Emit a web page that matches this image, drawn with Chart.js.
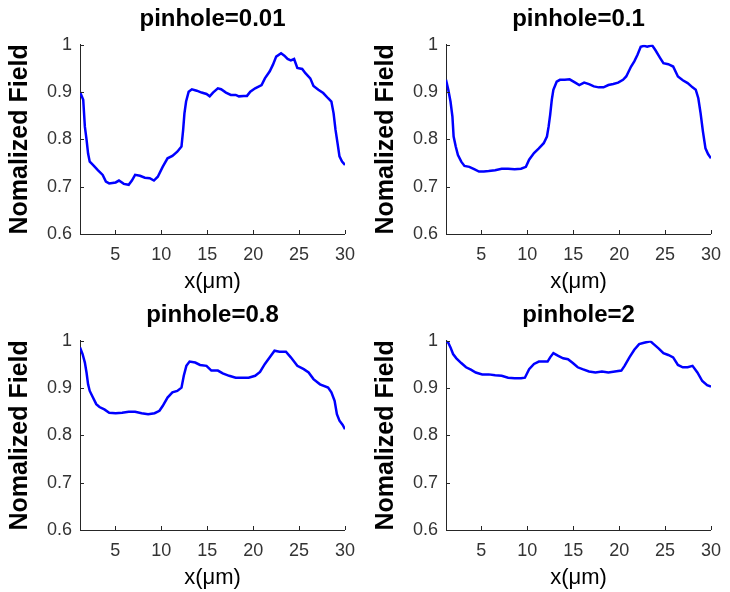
<!DOCTYPE html>
<html lang="en">
<head>
    <meta charset="utf-8">
    <title>Normalized field vs pinhole</title>
    <script src="https://cdn.jsdelivr.net/npm/chart.js"></script>
    <style>
        body { margin: 0; background: #fff; }
        .cell { position: absolute; width: 365px; height: 296px; }
    </style>
</head>
<body>
    <div class="cell" style="left:0;top:0"><canvas id="c1" width="365" height="296"></canvas></div>
    <div class="cell" style="left:366px;top:0"><canvas id="c2" width="365" height="296"></canvas></div>
    <div class="cell" style="left:0;top:296px"><canvas id="c3" width="365" height="296"></canvas></div>
    <div class="cell" style="left:366px;top:296px"><canvas id="c4" width="365" height="296"></canvas></div>
    <script>
        // tick labels
        const xTicks = [5, 10, 15, 20, 25, 30];
        const yTicks = [0.6, 0.7, 0.8, 0.9, 1];
        const titles = ['pinhole=0.01', 'pinhole=0.1', 'pinhole=0.8', 'pinhole=2'];

        // pinhole=0.01
        const x1 = [1.15, 1.50, 1.68, 1.86, 2.03, 2.21, 2.56, 3.09, 3.62, 3.97, 4.33, 5.03, 5.39, 5.92, 6.45, 6.80, 7.15, 7.68, 8.21, 8.74, 9.20, 9.62, 10.15, 10.68, 11.21, 11.74, 12.20, 12.38, 12.52, 12.70, 12.98, 13.33, 13.86, 14.39, 14.92, 15.27, 15.63, 16.16, 16.51, 17.04, 17.57, 18.10, 18.45, 18.98, 19.33, 19.69, 20.22, 20.92, 21.28, 21.81, 22.16, 22.51, 23.04, 23.40, 23.75, 24.10, 24.46, 24.81, 25.34, 25.69, 26.22, 26.57, 27.10, 27.63, 28.16, 28.52, 28.76, 28.97, 29.22, 29.40, 29.68, 30.00];
        const y1 = [0.900, 0.884, 0.827, 0.800, 0.770, 0.753, 0.746, 0.735, 0.725, 0.711, 0.707, 0.709, 0.713, 0.706, 0.704, 0.713, 0.725, 0.723, 0.719, 0.718, 0.713, 0.721, 0.742, 0.760, 0.765, 0.774, 0.785, 0.820, 0.855, 0.880, 0.901, 0.906, 0.903, 0.899, 0.896, 0.891, 0.899, 0.908, 0.906, 0.899, 0.894, 0.894, 0.891, 0.892, 0.892, 0.901, 0.908, 0.915, 0.929, 0.944, 0.958, 0.975, 0.982, 0.977, 0.970, 0.967, 0.970, 0.951, 0.949, 0.940, 0.929, 0.913, 0.905, 0.898, 0.887, 0.880, 0.855, 0.820, 0.788, 0.764, 0.753, 0.746];

        // pinhole=0.1
        const x2 = [1.15, 1.40, 1.64, 1.85, 1.98, 2.21, 2.45, 2.81, 3.16, 3.69, 4.21, 4.74, 5.27, 5.80, 6.50, 7.21, 7.91, 8.62, 9.32, 9.85, 10.20, 10.73, 11.26, 11.79, 12.14, 12.32, 12.49, 12.67, 12.84, 13.20, 13.55, 14.08, 14.61, 15.13, 15.66, 16.19, 16.72, 17.25, 17.78, 18.30, 18.83, 19.36, 19.89, 20.42, 20.77, 21.30, 21.65, 22.00, 22.35, 22.71, 23.06, 23.59, 23.94, 24.47, 24.82, 25.35, 25.88, 26.40, 26.93, 27.46, 27.99, 28.34, 28.62, 28.87, 29.12, 29.40, 29.68, 30.00];
        const y2 = [0.926, 0.905, 0.880, 0.848, 0.806, 0.785, 0.767, 0.753, 0.744, 0.742, 0.737, 0.732, 0.732, 0.733, 0.735, 0.738, 0.738, 0.737, 0.738, 0.742, 0.757, 0.771, 0.781, 0.792, 0.806, 0.827, 0.852, 0.884, 0.905, 0.922, 0.926, 0.926, 0.927, 0.921, 0.915, 0.920, 0.917, 0.912, 0.910, 0.910, 0.915, 0.917, 0.920, 0.926, 0.933, 0.954, 0.965, 0.979, 0.996, 0.998, 0.996, 0.999, 0.989, 0.972, 0.961, 0.959, 0.954, 0.933, 0.925, 0.919, 0.910, 0.905, 0.887, 0.855, 0.817, 0.781, 0.769, 0.760];

        // pinhole=0.8
        const x3 = [1.15, 1.43, 1.68, 1.86, 2.03, 2.21, 2.56, 2.92, 3.27, 3.80, 4.33, 5.03, 5.74, 6.45, 7.15, 7.86, 8.57, 9.27, 9.80, 10.15, 10.68, 11.21, 11.74, 12.20, 12.45, 12.73, 13.08, 13.69, 14.22, 14.92, 15.45, 16.16, 16.69, 17.39, 18.10, 18.81, 19.51, 20.22, 20.75, 21.28, 21.81, 22.33, 22.87, 23.57, 24.10, 24.81, 25.51, 26.04, 26.57, 27.28, 28.16, 28.52, 28.87, 29.12, 29.40, 29.75, 30.00];
        const y3 = [0.986, 0.972, 0.954, 0.933, 0.908, 0.894, 0.880, 0.866, 0.860, 0.855, 0.848, 0.847, 0.848, 0.850, 0.850, 0.847, 0.845, 0.847, 0.852, 0.862, 0.880, 0.891, 0.894, 0.901, 0.926, 0.947, 0.956, 0.954, 0.949, 0.947, 0.937, 0.937, 0.931, 0.926, 0.922, 0.922, 0.922, 0.926, 0.934, 0.951, 0.965, 0.979, 0.977, 0.977, 0.965, 0.947, 0.940, 0.933, 0.919, 0.908, 0.901, 0.891, 0.873, 0.845, 0.831, 0.822, 0.813];

        // pinhole=2
        const x4 = [1.15, 1.40, 1.64, 1.92, 2.28, 2.81, 3.33, 3.86, 4.39, 5.09, 5.80, 6.50, 7.21, 7.91, 8.62, 9.32, 9.74, 10.20, 10.73, 11.26, 11.79, 12.21, 12.49, 12.84, 13.37, 13.90, 14.43, 14.96, 15.49, 16.01, 16.72, 17.42, 18.13, 18.83, 19.54, 20.24, 20.59, 21.12, 21.65, 22.18, 22.71, 23.41, 23.76, 24.29, 24.82, 25.35, 25.88, 26.40, 26.93, 27.46, 27.99, 28.52, 29.05, 29.58, 30.00];
        const y4 = [1.000, 0.996, 0.986, 0.972, 0.963, 0.953, 0.944, 0.939, 0.933, 0.929, 0.929, 0.927, 0.926, 0.922, 0.921, 0.921, 0.922, 0.940, 0.951, 0.956, 0.956, 0.956, 0.965, 0.974, 0.968, 0.963, 0.961, 0.953, 0.944, 0.940, 0.935, 0.933, 0.935, 0.933, 0.935, 0.937, 0.947, 0.965, 0.981, 0.993, 0.996, 0.999, 0.993, 0.984, 0.974, 0.970, 0.965, 0.949, 0.944, 0.944, 0.947, 0.933, 0.915, 0.906, 0.903];

        const FONT = 'Liberation Sans, Arial, sans-serif';
        const AXIS_COLOR = '#262626';

        // matlab-style ticks pointing into the plot
        const innerTicks = {
            id: 'innerTicks',
            afterDraw(chart) {
                const { ctx, chartArea, scales } = chart;
                ctx.save();
                ctx.strokeStyle = AXIS_COLOR;
                ctx.lineWidth = 1;
                xTicks.forEach(v => {
                    const px = Math.round(scales.x.getPixelForValue(v)) + 0.5;
                    ctx.beginPath();
                    ctx.moveTo(px, chartArea.bottom);
                    ctx.lineTo(px, chartArea.bottom - 4);
                    ctx.stroke();
                });
                yTicks.forEach(v => {
                    const py = Math.round(scales.y.getPixelForValue(v)) + 0.5;
                    ctx.beginPath();
                    ctx.moveTo(chartArea.left, py);
                    ctx.lineTo(chartArea.left + 4, py);
                    ctx.stroke();
                });
                ctx.restore();
            }
        };

        function makeChart(id, title, xs, ys) {
            const ctx = document.getElementById(id).getContext('2d');
            return new Chart(ctx, {
                type: 'line',
                data: {
                    datasets: [{
                        data: xs.map((x, i) => ({ x: x, y: ys[i] })),
                        borderColor: '#0000ff',
                        borderWidth: 2.5,
                        pointRadius: 0,
                        tension: 0,
                        fill: false
                    }]
                },
                options: {
                    responsive: false,
                    animation: false,
                    layout: { padding: { left: 0, right: 12, top: 0, bottom: 0 } },
                    plugins: {
                        legend: { display: false },
                        tooltip: { enabled: false },
                        title: {
                            display: true,
                            text: title,
                            fullSize: false,
                            color: '#000',
                            font: { family: FONT, size: 24, weight: 'bold' },
                            padding: { top: 5, bottom: 11 }
                        }
                    },
                    scales: {
                        x: {
                            type: 'linear',
                            min: 1.15,
                            max: 30,
                            afterBuildTicks: s => { s.ticks = xTicks.map(v => ({ value: v })); },
                            afterFit: s => { s.height = 62; },
                            grid: { display: false, drawTicks: false },
                            border: { display: true, color: AXIS_COLOR, width: 1 },
                            ticks: { padding: 10, color: '#333', maxRotation: 0, autoSkip: false,
                                font: { family: FONT, size: 18 } },
                            title: { display: true, text: 'x(\u03bcm)', color: '#000',
                                font: { family: FONT, size: 22 }, padding: { top: 0, bottom: 1 } }
                        },
                        y: {
                            min: 0.6,
                            max: 1,
                            afterBuildTicks: s => { s.ticks = yTicks.map(v => ({ value: v })); },
                            afterFit: s => { s.width = 80; },
                            grid: { display: false, drawTicks: false },
                            border: { display: true, color: AXIS_COLOR, width: 1 },
                            ticks: { padding: 8, color: '#333', autoSkip: false,
                                font: { family: FONT, size: 18 },
                                callback: v => String(+v.toFixed(1)) },
                            title: { display: true, text: 'Nomalized Field', color: '#000',
                                font: { family: FONT, size: 25, weight: 'bold' }, padding: { top: 5, bottom: 0 } }
                        }
                    }
                },
                plugins: [innerTicks]
            });
        }

        makeChart('c1', titles[0], x1, y1);
        makeChart('c2', titles[1], x2, y2);
        makeChart('c3', titles[2], x3, y3);
        makeChart('c4', titles[3], x4, y4);
    </script>
</body>
</html>
